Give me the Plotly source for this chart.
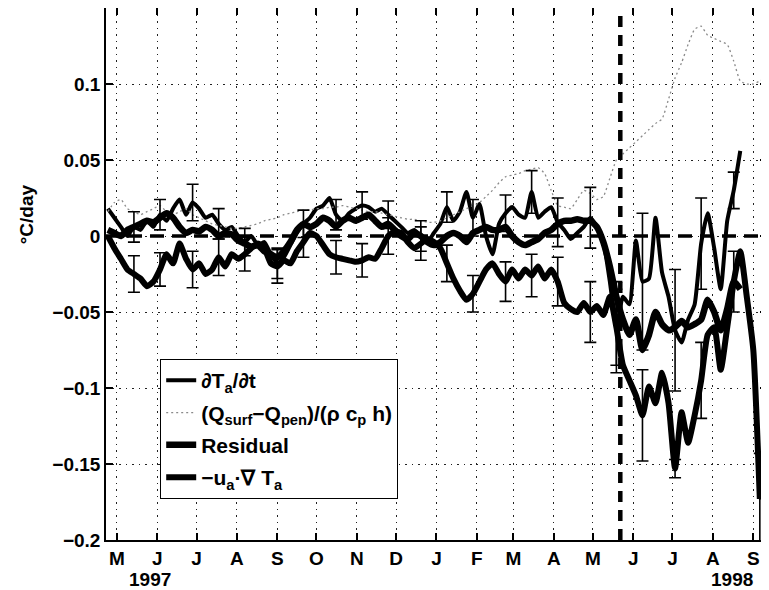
import plotly.graph_objects as go
import pandas as pd

# 5-day sampling from 24 Apr 1997
dates = pd.date_range("1997-04-24", periods=102, freq="5D")

dTdt = [0.018, 0.012, 0.006, 0.000, 0.006, 0.004, 0.010, 0.006, 0.014, 0.010,
        0.018, 0.024, 0.014, 0.022, 0.018, 0.012, 0.014, 0.008, 0.004, 0.006,
        0.000, -0.004, 0.000, -0.006, -0.004, -0.012, -0.018, -0.014, -0.006, 0.002,
        0.008, 0.012, 0.018, 0.020, 0.025, 0.014, 0.010, 0.015, 0.018, 0.020,
        0.019, 0.016, 0.018, 0.014, 0.010, 0.006, 0.002, 0.004, 0.000, -0.004,
        0.002,
        0.008, 0.019, 0.010, 0.016, 0.029, 0.012, 0.021, 0.000, -0.012, 0.008,
        0.015, 0.019, 0.014, 0.012, 0.029, 0.012, 0.016, 0.019, 0.009, 0.004,
        -0.002, 0.002, 0.006, 0.012, 0.006, -0.004, -0.030, -0.060, -0.040, -0.045,
        -0.003, -0.030, -0.028, 0.012, -0.024, -0.040, -0.062, -0.070, -0.055, -0.045,
        -0.005, 0.015, -0.008, -0.035, 0.010, 0.030, 0.056]

Qflux = [0.016, 0.022, 0.024, 0.018, 0.016, 0.014, 0.016, 0.018, 0.020, 0.016,
         0.014, 0.016, 0.018, 0.014, 0.012, 0.010, 0.008, 0.007, 0.006, 0.005,
         0.005, 0.006, 0.007, 0.008, 0.010, 0.011, 0.012, 0.014, 0.015, 0.016,
         0.017, 0.017, 0.018, 0.018, 0.019, 0.019, 0.020, 0.019, 0.018, 0.017,
         0.016, 0.016, 0.015, 0.014, 0.013, 0.012, 0.011, 0.011, 0.010, 0.009,
         0.009, 0.010, 0.012, 0.014, 0.016, 0.018, 0.020, 0.022, 0.026, 0.030,
         0.035, 0.039, 0.040, 0.041, 0.043, 0.044, 0.045, 0.041, 0.030, 0.020,
         0.019, 0.018, 0.024, 0.030, 0.028, 0.024, 0.026, 0.038, 0.050, 0.054,
         0.058, 0.062, 0.066, 0.070, 0.074, 0.077, 0.090, 0.104, 0.114, 0.126,
         0.136, 0.138, 0.132, 0.130, 0.128, 0.126, 0.115, 0.102, 0.100, 0.100,
         0.102, 0.104]

residual = [0.004, 0.002, 0.000, 0.004, 0.006, 0.008, 0.010, 0.009, 0.012, 0.015,
            0.012, 0.006, 0.002, 0.004, 0.003, 0.006, 0.004, 0.000, 0.002, 0.001,
            -0.003, -0.005, -0.007, -0.006, -0.010, -0.012, -0.014, -0.010, -0.004, 0.004,
            0.008, 0.006, 0.008, 0.012, 0.010, 0.006, 0.010, 0.012, 0.010, 0.012,
            0.014, 0.010, 0.006, 0.008, 0.004, 0.000, -0.002, 0.002, 0.000, -0.004,
            -0.006,
            -0.004, 0.000, 0.002, 0.000, -0.004, 0.002, 0.004, 0.006, 0.004, 0.004,
            0.006, 0.000, -0.004, -0.006, -0.004, -0.002, 0.002, 0.004, 0.008, 0.010,
            0.010, 0.011, 0.010, 0.010, 0.006, -0.004, -0.020, -0.040, -0.055, -0.065,
            -0.055, -0.075, -0.065, -0.050, -0.058, -0.062, -0.060, -0.056, -0.060, -0.058,
            -0.055, -0.042, -0.050, -0.062, -0.048, -0.030, -0.035]

advection = [0.000, -0.008, -0.015, -0.022, -0.025, -0.028, -0.033, -0.030, -0.022, -0.012,
             -0.018, -0.005, -0.015, -0.022, -0.018, -0.025, -0.022, -0.014, -0.020, -0.012,
             -0.015, -0.012, -0.008, -0.005, -0.008, -0.018, -0.020, -0.016, -0.018, -0.010,
             -0.004, 0.002, 0.000, -0.006, -0.012, -0.014, -0.015, -0.016, -0.017, -0.016,
             -0.014, -0.015, -0.008, 0.000, 0.003, 0.002, -0.004, -0.008, -0.005, -0.002,
             -0.004,
             -0.008, -0.018, -0.028, -0.036, -0.042, -0.038, -0.030, -0.022, -0.018, -0.025,
             -0.030, -0.022, -0.028, -0.022, -0.026, -0.020, -0.028, -0.022, -0.030, -0.044,
             -0.048, -0.050, -0.044, -0.050, -0.046, -0.052, -0.040, -0.060, -0.085, -0.095,
             -0.105, -0.118, -0.099, -0.110, -0.090, -0.110, -0.153, -0.116, -0.136, -0.118,
             -0.095, -0.065, -0.060, -0.088, -0.060, -0.030, -0.010, -0.040, -0.075, -0.173]

# error bar sample indices and half-widths
adv_err_idx = [4, 8, 13, 17, 21, 26, 30, 35, 39, 43, 48, 52, 56, 61, 65, 69, 74, 78, 82, 87, 91, 96, 100]
adv_err = [0.012, 0.011, 0.012, 0.012, 0.011, 0.011, 0.010, 0.011, 0.011, 0.012, 0.011, 0.012,
           0.012, 0.013, 0.014, 0.016, 0.020, 0.025, 0.030, 0.006, 0.025, 0.020, 0.030]
dtdt_err_idx = [4, 8, 13, 17, 21, 26, 30, 35, 39, 43, 48, 52, 56, 61, 65, 69, 74, 78, 82, 87, 91, 96]
dtdt_err = [0.010, 0.010, 0.012, 0.010, 0.009, 0.010, 0.009, 0.010, 0.009, 0.009, 0.010,
            0.010, 0.012, 0.012, 0.014, 0.016, 0.020, 0.030, 0.045, 0.040, 0.030, 0.012]

month_ticks = ["1997-05-01", "1997-06-01", "1997-07-01", "1997-08-01", "1997-09-01",
               "1997-10-01", "1997-11-01", "1997-12-01", "1998-01-01", "1998-02-01",
               "1998-03-01", "1998-04-01", "1998-05-01", "1998-06-01", "1998-07-01",
               "1998-08-01", "1998-09-01"]
month_labels = ["M", "J", "J", "A", "S", "O", "N", "D", "J", "F", "M", "A", "M", "J", "J", "A", "S"]
y_ticks = [-0.2, -0.15, -0.1, -0.05, 0, 0.05, 0.1]
y_labels = ["\u22120.2", "\u22120.15", "\u22120.1", "\u22120.05", "0", "0.05", "0.1"]
onset_date = "1998-05-22"

FONT = "Liberation Sans, Arial, sans-serif"
SPL = dict(shape="spline", smoothing=0.5)

fig = go.Figure()
fig.add_trace(go.Scatter(x=dates[:len(dTdt)], y=dTdt, mode="lines", line=dict(color="black", width=4, **SPL),
                         name="\u2202T<sub>a</sub>/\u2202t", legendgroup="a"))
fig.add_trace(go.Scatter(x=dates[:len(Qflux)], y=Qflux, mode="lines", line=dict(color="#8a8a8a", width=1.3, dash="2px,3px", **SPL),
                         name="(Q<sub>surf</sub>\u2212Q<sub>pen</sub>)/(\u03c1 c<sub>p</sub> h)", legendgroup="b"))
fig.add_trace(go.Scatter(x=dates[:len(residual)], y=residual, mode="lines", line=dict(color="black", width=6.5, **SPL),
                         name="Residual", legendgroup="c"))
fig.add_trace(go.Scatter(x=dates[:len(advection)], y=advection, mode="lines", line=dict(color="black", width=6, **SPL),
                         name="\u2212u<sub>a</sub>\u00b7\u2207 T<sub>a</sub>", legendgroup="d"))

fig.add_trace(go.Scatter(x=[dates[i] for i in adv_err_idx], y=[advection[i] for i in adv_err_idx], mode="markers",
                         marker=dict(size=2, color="black"), showlegend=False,
                         error_y=dict(type="data", array=adv_err, color="black", thickness=1.6, width=6)))
fig.add_trace(go.Scatter(x=[dates[i] for i in dtdt_err_idx], y=[dTdt[i] for i in dtdt_err_idx], mode="markers",
                         marker=dict(size=2, color="black"), showlegend=False,
                         error_y=dict(type="data", array=dtdt_err, color="black", thickness=1.6, width=6)))

# zero line and onset marker
fig.add_shape(type="line", xref="paper", x0=0, x1=1, yref="y", y0=0, y1=0,
              line=dict(color="black", width=3.5, dash="14px,8px"))
fig.add_shape(type="line", xref="x", x0=onset_date, x1=onset_date, yref="paper", y0=0, y1=1,
              line=dict(color="black", width=4.5, dash="11px,8px"))

fig.add_annotation(text="1997", xref="x", x="1997-05-26", yref="paper", y=-0.075, showarrow=False,
                   font=dict(family=FONT, size=19, color="black", weight="bold"), xanchor="center", yanchor="middle")
fig.add_annotation(text="1998", xref="x", x="1998-08-16", yref="paper", y=-0.075, showarrow=False,
                   font=dict(family=FONT, size=19, color="black", weight="bold"), xanchor="center", yanchor="middle")
fig.add_annotation(text="\u00b0C/day", xref="paper", x=-0.119, yref="paper", y=0.613, showarrow=False,
                   textangle=-90, xanchor="center", yanchor="middle",
                   font=dict(family=FONT, size=19, color="black", weight="bold"))

axis_common = dict(showline=True, linecolor="black", linewidth=1.5, mirror="ticks",
                   ticks="inside", ticklen=7, tickcolor="black", tickwidth=1.5,
                   showgrid=True, gridcolor="#222222", gridwidth=1.2, griddash="1.5px,5px",
                   zeroline=False, automargin=False,
                   tickfont=dict(family=FONT, size=19, color="black", weight="bold"))

fig.update_xaxes(type="date", range=["1997-04-22 14:00", "1998-09-11 12:00"],
                 tickmode="array", tickvals=month_ticks, ticktext=month_labels,
                 ticklabelstandoff=0, **axis_common)
fig.update_yaxes(range=[-0.2, 0.15], tickmode="array", tickvals=y_ticks, ticktext=y_labels,
                 ticklabelstandoff=0, **axis_common)

# page body has an 8px default margin; margins compensate so the plot area sits at 106..767 x 7..540
fig.update_layout(width=769, height=590, margin=dict(l=98, r=10, t=0, b=58, autoexpand=False),
                  paper_bgcolor="white", plot_bgcolor="white",
                  font=dict(family=FONT, color="black"),
                  legend=dict(x=0.082, y=0.34, xanchor="left", yanchor="top",
                              bgcolor="white", bordercolor="black", borderwidth=1,
                              font=dict(family=FONT, size=21, color="black", weight="bold"),
                              tracegroupgap=2, traceorder="grouped"))

fig.write_html("out.html")
